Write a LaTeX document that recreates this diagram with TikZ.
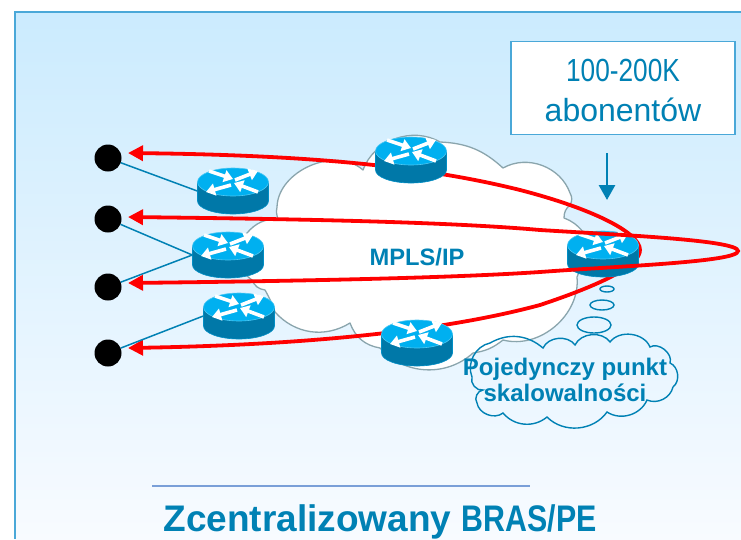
\documentclass[tikz,border=0pt]{standalone}
\usepackage{fontspec}
\setmainfont{Liberation Sans}
\newfontfamily\narrowfont{Liberation Sans}[FakeStretch=0.82]
\usetikzlibrary{arrows.meta}
\usetikzlibrary{positioning}
\definecolor{ciscoblue}{HTML}{0081B4}
\definecolor{framecol}{HTML}{4AA8D8}
\definecolor{topcyan}{HTML}{00B0F0}
\definecolor{bodyblue}{HTML}{0078A8}
\definecolor{cloudgrey}{HTML}{8AA5AD}
\definecolor{skytop}{HTML}{CBEBFE}
\definecolor{skybottom}{HTML}{F8FBFF}
\definecolor{rulecol}{HTML}{7A9FD8}
\tikzset{
  routerbox/.style={minimum width=71pt,minimum height=46pt,inner sep=0pt},
  routericon/.pic={
    \fill[bodyblue,draw=topcyan!40!bodyblue,line width=.6pt] (-35.5,-9) -- (-35.5,10) arc[start angle=180,end angle=360,x radius=35.5,y radius=-13] -- (35.5,-9) -- cycle;
    \fill[topcyan,draw=topcyan!70!white,line width=.6pt] (0,-9) ellipse[x radius=35.5,y radius=14];
    \foreach \a/\b/\c/\d in {-24/-20/0/-12,2/-11/25/-20,-2/-6/-27/1,25/1/1/-8}
      \draw[white,line width=3.6pt,-{Triangle[length=9pt,width=12pt]}] (\a,\b) -- (\c,\d);
  },
  enddot/.style={circle,fill=black,minimum size=27pt,inner sep=0pt},
  feedline/.style={ciscoblue,line width=1.5pt},
  redpath/.style={red,line width=3.8pt,{Triangle[length=15pt,width=15pt]}-{Triangle[length=15pt,width=15pt]}},
  cloudedge/.style={line width=1.3pt,line join=round},
  bubble/.style={draw=ciscoblue,line width=1.4pt}
}
\begin{document}
\begin{tikzpicture}[x=1pt,y=-1pt]
  \useasboundingbox (0,0) rectangle (741,539);
  \fill[white] (0,0) rectangle (741,539);
  \shade[top color=skytop,bottom color=skybottom] (15,12) rectangle (741,539);
  \draw[framecol,line width=1.8pt] (15,539) -- (15,12) -- (741,12);

  % core cloud
  \draw[cloudedge,draw=cloudgrey,fill=white] (252,280) to[bend left=50] (247,233) to[bend left=25] (278,219)
    to[bend left=15] (277,207) to[bend left=65] (363,170) to[bend left=50] (440,142)
    to[bend left=20] (503,168) to[bend left=50] (570,193) to[bend left=30] (570,205) to[bend right=25] (564,218)
    to[bend left=15] (583,232) to[bend left=15] (577,277) to[bend left=55] (503,340)
    to[bend left=15] (473,353) to[bend left=45] (380,348) to[bend left=30] (350,323)
    to[bend left=40] (275,312) to[bend right=5] (265,290) to[bend left=30] cycle;

  % long loop behind the routers
  \coordinate (t1) at (128,153);
  \coordinate (t2) at (128,217);
  \coordinate (t3) at (128,283);
  \coordinate (t4) at (128,348);
  \draw[redpath] (t1) .. controls (300,155) and (420,165) .. (520,190)
    .. controls (590,208) and (640,232) .. (640,250)
    .. controls (640,266) and (600,285) .. (540,305)
    .. controls (440,332) and (300,345) .. (t4);

  \node[routerbox] (r1) at (233,191) {};
  \node[routerbox] (r2) at (228,255) {};
  \node[routerbox] (r3) at (239,316) {};
  \node[routerbox] (r4) at (411,160) {};
  \node[routerbox] (r5) at (417,343) {};
  \node[routerbox] (r6) at (603,254) {};
  \foreach \r in {r1,r2,r3,r4,r5,r6}
    \pic at (\r) {routericon};

  \node[enddot] (d1) at (108,158) {};
  \node[enddot] (d2) at (108,219) {};
  \node[enddot] (d3) at (108,287) {};
  \node[enddot] (d4) at (108,353) {};
  \draw[feedline] (d1)--(r1.west);
  \draw[feedline] (d2)--(r2.west);
  \draw[feedline] (d3)--(r2.west);
  \draw[feedline] (d4)--(r3.west);

  % short loop in front
  \draw[redpath] (t2) .. controls (300,219) and (450,222) .. (540,230)
    .. controls (620,235) and (738,240) .. (738,251)
    .. controls (738,262) and (620,266) .. (540,272)
    .. controls (450,278) and (300,281) .. (t3);

  \node[font=\bfseries\fontsize{23.7}{28}\selectfont,text=ciscoblue] (core) at (417,257) {MPLS/IP};

  \node[draw=framecol,line width=1.6pt,fill=white,minimum width=224pt,minimum height=93pt,inner sep=0pt,align=center,text=ciscoblue,font=\fontsize{32}{40}\selectfont] (subs) at (623,88)
    {\rule{0pt}{27pt}{\narrowfont 100-200K}\\abonentów};
  \coordinate (a1) at (607,153);
  \coordinate (a2) at (607,200);
  \draw[ciscoblue,line width=2.8pt,-{Triangle[length=15pt,width=16pt]}] (a1)--(a2);

  % thought bubble
  \draw[bubble] (607,289) ellipse[x radius=7,y radius=3];
  \draw[bubble] (602,305) ellipse[x radius=12,y radius=5];
  \draw[bubble] (594,325) ellipse[x radius=17,y radius=8];
  \draw[bubble] (490,343) to[bend left=35] (543,348) to[bend left=60] (575,345) to[bend left=60] (610,342)
    to[bend left=60] (650,347) to[bend left=70] (670,363) to[bend left=60] (673,387) to[bend left=50] (647,400)
    to[bend left=50] (607,412) to[bend left=50] (547,417) to[bend left=45] (503,413) to[bend left=60] (477,403)
    to[bend left=60] (483,390) to[bend left=60] (472,377) to[bend left=50] cycle;
  \node[font=\bfseries\fontsize{24}{26}\selectfont,text=ciscoblue,align=center,inner sep=0pt] (note) at (565,380) {Pojedynczy punkt\\skalowalności};

  \coordinate (l1) at (152,486);
  \coordinate (l2) at (530,486);
  \draw[rulecol,line width=1.2pt] (l1)--(l2);
  \node[text=ciscoblue,font=\bfseries,inner sep=0pt] (title) at (380,522)
    {\fontsize{37}{40}\selectfont Zcentralizowany {\narrowfont\fontsize{37}{40}\selectfont BRAS/PE}};
\end{tikzpicture}
\end{document}
